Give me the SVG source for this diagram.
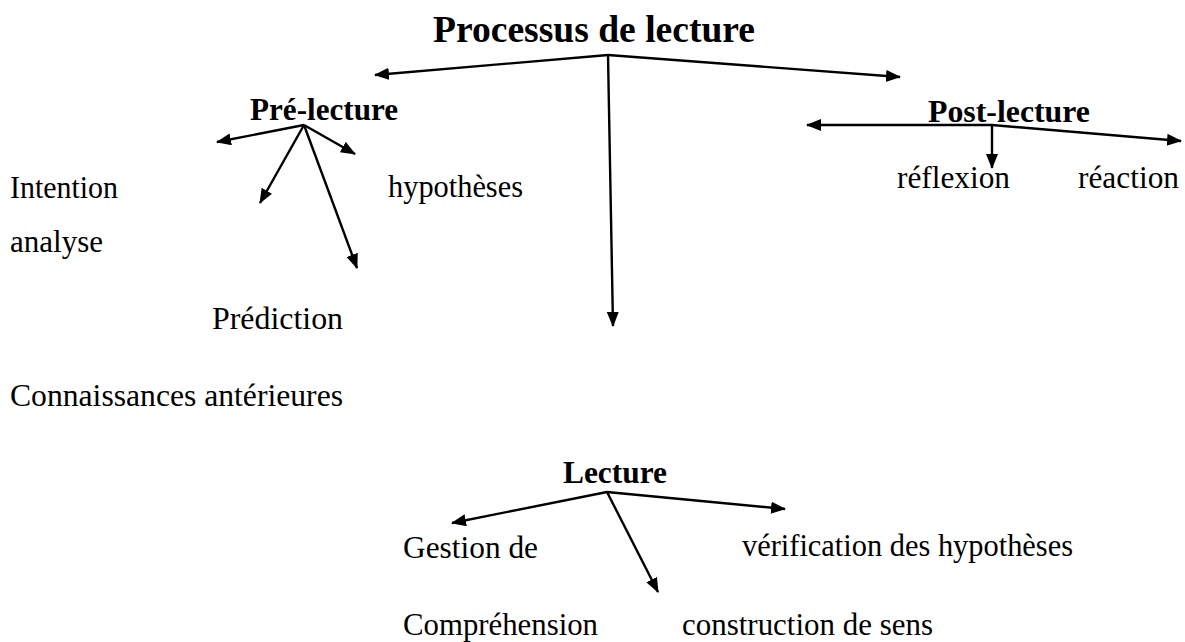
<svg xmlns="http://www.w3.org/2000/svg" width="1185" height="642" viewBox="0 0 1185 642">
<style>
text{font-family:"Liberation Serif","Times New Roman",serif;fill:#000}
.t{font-size:38px;font-weight:bold}
.h{font-size:32px;font-weight:bold}
.b{font-size:32px}
.c line{stroke:#000;stroke-width:2.4;marker-end:url(#ah)}
</style>
<defs>
<marker id="ah" markerUnits="userSpaceOnUse" markerWidth="16" markerHeight="14" refX="14" refY="6" orient="auto"><path d="M0,0 L15,6 L0,12 z" fill="#000"/></marker>
</defs>
<rect width="1185" height="642" fill="#fff"/>
<g id="title"><text class="t" x="433" y="42" textLength="322" lengthAdjust="spacingAndGlyphs">Processus de lecture</text></g>
<g id="pre"><text class="h" x="250" y="120" textLength="148" lengthAdjust="spacingAndGlyphs">Pré-lecture</text></g>
<g id="post"><text class="h" x="928" y="122" textLength="162" lengthAdjust="spacingAndGlyphs">Post-lecture</text></g>
<g id="lecture"><text class="h" x="563" y="483" textLength="104" lengthAdjust="spacingAndGlyphs">Lecture</text></g>
<g id="intention"><text class="b" x="10" y="198" textLength="108" lengthAdjust="spacingAndGlyphs">Intention</text></g>
<g id="analyse"><text class="b" x="10" y="252" textLength="93" lengthAdjust="spacingAndGlyphs">analyse</text></g>
<g id="hypotheses"><text class="b" x="388" y="197" textLength="135" lengthAdjust="spacingAndGlyphs">hypothèses</text></g>
<g id="prediction"><text class="b" x="212" y="329" textLength="131" lengthAdjust="spacingAndGlyphs">Prédiction</text></g>
<g id="connaissances"><text class="b" x="10" y="406" textLength="333" lengthAdjust="spacingAndGlyphs">Connaissances antérieures</text></g>
<g id="reflexion"><text class="b" x="897" y="188" textLength="113" lengthAdjust="spacingAndGlyphs">réflexion</text></g>
<g id="reaction"><text class="b" x="1078" y="188" textLength="101" lengthAdjust="spacingAndGlyphs">réaction</text></g>
<g id="gestion"><text class="b" x="403" y="558" textLength="135" lengthAdjust="spacingAndGlyphs">Gestion de</text></g>
<g id="verification"><text class="b" x="742" y="556" textLength="331" lengthAdjust="spacingAndGlyphs">vérification des hypothèses</text></g>
<g id="comprehension"><text class="b" x="403" y="635" textLength="195" lengthAdjust="spacingAndGlyphs">Compréhension</text></g>
<g id="construction"><text class="b" x="682" y="635" textLength="251" lengthAdjust="spacingAndGlyphs">construction de sens</text></g>
<g id="connectors" class="c">
<line x1="608" y1="55" x2="375" y2="75"/>
<line x1="608" y1="55" x2="900" y2="77"/>
<line x1="608" y1="55" x2="613" y2="326"/>
<line x1="304" y1="125" x2="217" y2="142"/>
<line x1="304" y1="125" x2="355" y2="154"/>
<line x1="304" y1="125" x2="260" y2="203"/>
<line x1="304" y1="125" x2="357" y2="268"/>
<line x1="992" y1="125" x2="807" y2="125"/>
<line x1="992" y1="125" x2="1181" y2="141"/>
<line x1="992" y1="125" x2="992" y2="168"/>
<line x1="607" y1="492" x2="452" y2="523"/>
<line x1="607" y1="492" x2="785" y2="509"/>
<line x1="607" y1="492" x2="658" y2="592"/>
</g>
</svg>
